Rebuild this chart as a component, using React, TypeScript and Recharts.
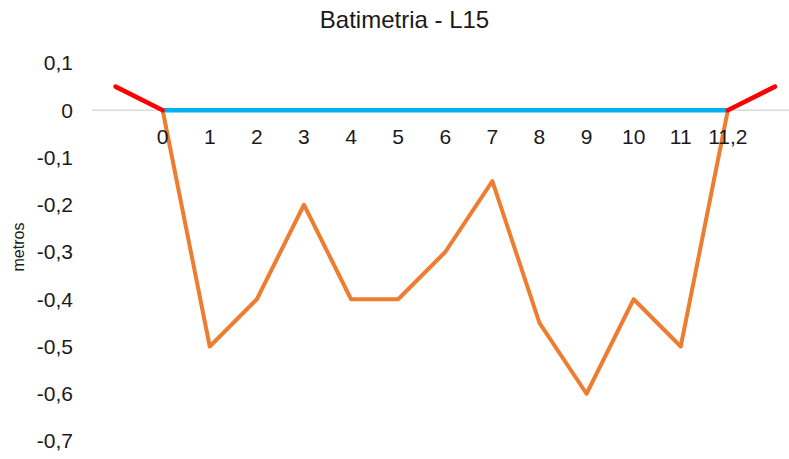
import { LineChart, Line, XAxis, YAxis, ReferenceLine, LabelList } from "recharts";

// cross-section stations (labels under the water line)
const categories = ["0", "1", "2", "3", "4", "5", "6", "7", "8", "9", "10", "11", "11,2"];
// bottom depth at each station, metres
const depth = [0, -0.5, -0.4, -0.2, -0.4, -0.4, -0.3, -0.15, -0.45, -0.6, -0.4, -0.5, 0];
// water surface
const waterLevel = [0, 0, 0, 0, 0, 0, 0, 0, 0, 0, 0, 0, 0];
// banks, one step outside each end
const leftBank = [0.05, 0];
const rightBank = [0, 0.05];

const yTicks = [0.1, 0, -0.1, -0.2, -0.3, -0.4, -0.5, -0.6, -0.7];

const rows: any[] = [];
for (let p = -1; p <= categories.length; p++) {
  const i = p;
  rows.push({
    pos: p,
    cat: categories[i],
    depth: depth[i],
    water: waterLevel[i],
    bankL: p === -1 ? leftBank[0] : p === 0 ? leftBank[1] : undefined,
    bankR:
      p === categories.length - 1
        ? rightBank[0]
        : p === categories.length
        ? rightBank[1]
        : undefined,
  });
}

const font = "'Liberation Sans', Arial, sans-serif";

function fmt(v: number) {
  if (v === 0) return "0";
  return v.toFixed(1).replace(".", ",");
}

export default function App() {
  return (
    <div
      style={{
        position: "fixed",
        left: 0,
        top: 0,
        width: 789,
        height: 459,
        overflow: "hidden",
        background: "#fff",
        fontFamily: font,
      }}
    >
      <div
        style={{
          position: "absolute",
          left: 0,
          top: 8,
          width: 809,
          textAlign: "center",
          fontSize: 24,
          lineHeight: "24px",
          color: "#1a1a1a",
        }}
      >
        Batimetria - L15
      </div>
      <LineChart
        width={810}
        height={459}
        data={rows}
        margin={{ top: 63, right: 11.5, bottom: 18, left: 0 }}
      >
        <XAxis dataKey="pos" type="number" domain={[-1.5, 13.5]} hide />
        <YAxis
          type="number"
          domain={[-0.7, 0.1]}
          ticks={yTicks}
          interval={0}
          width={92}
          axisLine={false}
          tickLine={false}
          tickSize={0}
          tickMargin={19}
          tickFormatter={fmt}
          tick={{ fontSize: 21, fill: "#1a1a1a", fontFamily: font }}
          label={{
            value: "metros",
            angle: -90,
            position: "insideLeft",
            offset: 18,
            dy: -5,
            textAnchor: "middle",
            fontSize: 16,
            fill: "#1a1a1a",
            fontFamily: font,
          }}
        />
        <ReferenceLine y={0} stroke="#d9d9d9" strokeWidth={1.5} />
        <Line
          dataKey="depth"
          stroke="#ED7D31"
          strokeWidth={4}
          dot={false}
          strokeLinejoin="round"
          isAnimationActive={false}
        />
        <Line
          dataKey="water"
          stroke="#00B0F0"
          strokeWidth={4.5}
          dot={false}
          isAnimationActive={false}
        >
          <LabelList
            dataKey="cat"
            position="bottom"
            offset={19}
            style={{ fontSize: 21, fill: "#1a1a1a", fontFamily: font }}
          />
        </Line>
        <Line
          dataKey="bankL"
          stroke="#FF0000"
          strokeWidth={4.5}
          strokeLinecap="round"
          dot={false}
          isAnimationActive={false}
        />
        <Line
          dataKey="bankR"
          stroke="#FF0000"
          strokeWidth={4.5}
          strokeLinecap="round"
          dot={false}
          isAnimationActive={false}
        />
      </LineChart>
    </div>
  );
}
